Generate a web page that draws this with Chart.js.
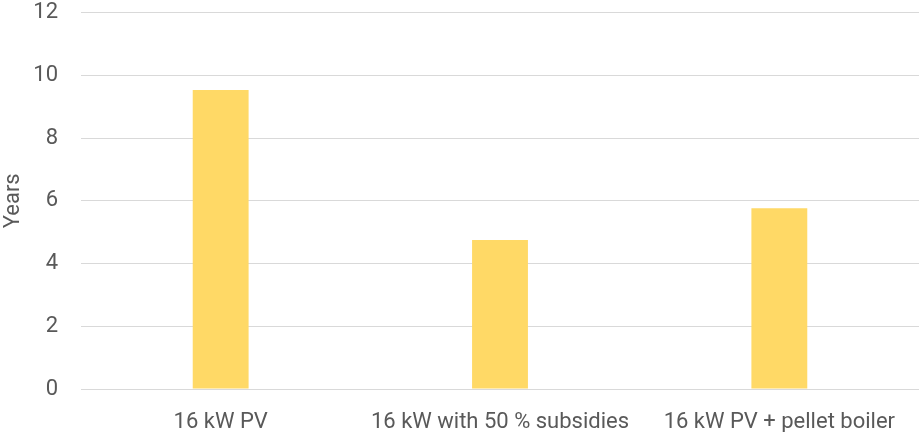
<!DOCTYPE html>
<html>
<head>
<meta charset="utf-8">
<script src="https://cdn.jsdelivr.net/npm/chart.js@4/dist/chart.umd.min.js"></script>
<style>
  html, body { margin: 0; padding: 0; background: #ffffff; }
  #wrap { width: 920px; height: 432px; position: relative; }
</style>
</head>
<body>
<div id="wrap"><canvas id="c"></canvas></div>
<script>
// Payback period per scenario, in years
const categories = ['16 kW PV', '16 kW with 50 % subsidies', '16 kW PV + pellet boiler'];
const paybackYears = [9.53, 4.75, 5.76];
const yTicks = [0, 2, 4, 6, 8, 10, 12];

const textColor = '#595959';
const font = { family: 'Roboto', size: 22, lineHeight: 1 };

new Chart(document.getElementById('c'), {
  type: 'bar',
  data: {
    labels: categories,
    datasets: [{
      label: 'Years',
      data: paybackYears,
      backgroundColor: '#FFD966',
      borderWidth: 0,
      barPercentage: 1,
      categoryPercentage: 0.2
    }]
  },
  options: {
    responsive: true,
    maintainAspectRatio: false,
    animation: false,
    layout: { padding: { left: 0, right: 1, top: 0, bottom: 0 } },
    plugins: { legend: { display: false }, tooltip: { enabled: false } },
    scales: {
      x: {
        grid: { display: false, drawTicks: false },
        border: { display: false },
        ticks: { color: textColor, font: font, padding: 22, maxRotation: 0 },
        afterFit: (s) => { s.height = 43; }
      },
      y: {
        min: 0,
        max: 12,
        afterBuildTicks: (s) => { s.ticks = yTicks.map(v => ({ value: v })); },
        grid: { color: '#d9d9d9', lineWidth: 1, drawTicks: false },
        border: { display: false },
        ticks: { color: textColor, font: font, padding: 23 },
        title: { display: true, text: 'Years', color: textColor, font: font, padding: { top: 2, bottom: 0 } },
        afterFit: (s) => {
          s.width = 81;
          // keep the top gridline close to the canvas edge
          s.paddingTop = 12.5;
          s.paddingBottom = 0;
        }
      }
    }
  }
});
</script>
</body>
</html>
